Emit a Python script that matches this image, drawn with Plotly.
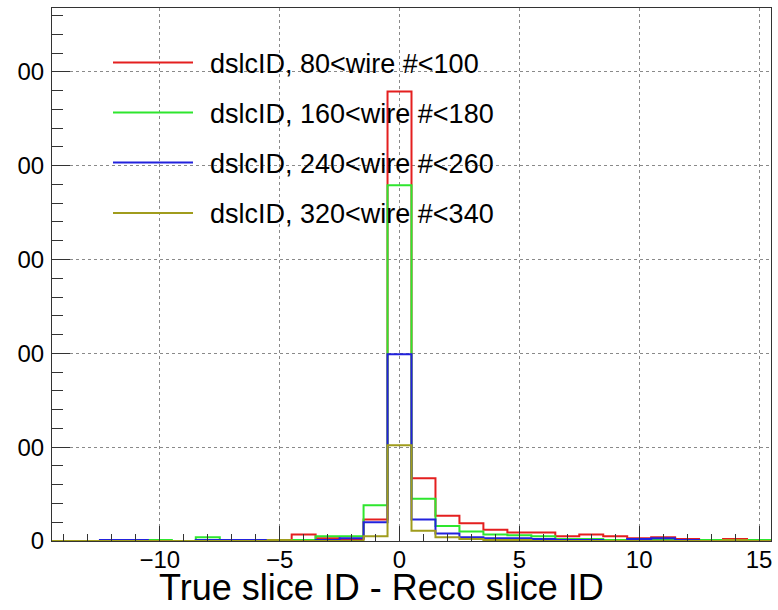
import plotly.graph_objects as go

# ---- data ----
bin_centers = list(range(-14, 16))  # 30 bins of width 1, from -14.5 to 15.5

#            -14 -13 -12 -11 -10  -9  -8  -7  -6  -5  -4  -3  -2  -1    0   1   2   3   4  5  6  7  8  9 10 11 12 13 14 15
red_vals =   [0,  0,  0,  0,  0,  0,  0,  0,  0,  0,  7,  3,  2, 23, 479, 67, 27, 19, 12, 9, 9, 5, 7, 5, 3, 4, 2, 0, 2, 0]
green_vals = [0,  0,  0,  0,  1,  0,  4,  0,  0,  0,  1,  5,  5, 38, 379, 45, 16, 10,  7, 6, 5, 2, 2, 1, 1, 1, 1, 1, 1, 1]
blue_vals =  [0,  0,  1,  1,  0,  0,  1,  1,  1,  0,  0,  1,  3, 20, 199, 23,  8,  4,  3, 3, 2, 1, 1, 0, 2, 3, 1, 0, 0, 0]
olive_vals = [0,  0,  0,  0,  0,  0,  0,  0,  0,  1,  0,  0,  0,  5, 102, 11,  4,  2,  1, 1, 0, 0, 0, 0, 0, 0, 0, 0, 1, 0]

series_names = ["dslcID, 80<wire #<100", "dslcID, 160<wire #<180",
                "dslcID, 240<wire #<260", "dslcID, 320<wire #<340"]
series_vals = [red_vals, green_vals, blue_vals, olive_vals]
series_colors = ["#e41f1f", "#2ee62e", "#2222dd", "#a09c1c"]

y_tickvals = [0, 100, 200, 300, 400, 500]
y_ticktext = ["0", "00", "00", "00", "00", "00"]
x_tickvals = [-10, -5, 0, 5, 10, 15]
x_title = "True slice ID - Reco slice ID"

FONT = "Liberation Sans, Arial, Helvetica, sans-serif"
W, H = 778, 610
L, R, T, B = 52, 7, 8, 69
PW, PH = W - L - R, H - T - B


def px_to_paper(px, py):
    return (px - L) / PW, (H - B - py) / PH


fig = go.Figure()

for name, vals, col in zip(series_names, series_vals, series_colors):
    edges = [c - 0.5 for c in bin_centers] + [bin_centers[-1] + 0.5]
    ys = list(vals) + [vals[-1]]
    fig.add_trace(go.Scatter(
        x=edges, y=ys, mode="lines", line=dict(color=col, width=2, shape="hv"),
        name=name, showlegend=False, cliponaxis=False, hoverinfo="skip"))

# manual ROOT-style legend (no box)
legend_rows_py = [62.5, 112.5, 162.5, 213]
for name, col, py in zip(series_names, series_colors, legend_rows_py):
    x0, y0 = px_to_paper(113, py)
    x1, _ = px_to_paper(193, py)
    fig.add_shape(type="line", xref="paper", yref="paper", x0=x0, x1=x1, y0=y0, y1=y0,
                  line=dict(color=col, width=2))
    tx, ty = px_to_paper(208, py + 1)
    fig.add_annotation(text=name, xref="paper", yref="paper", x=tx, y=ty,
                       xanchor="left", yanchor="middle", showarrow=False,
                       font=dict(family=FONT, size=27, color="black"))

# x-axis title (ROOT placement)
tx, ty = px_to_paper(381.5, 610)
fig.add_annotation(text=x_title, xref="paper", yref="paper", x=tx, y=ty,
                   xanchor="center", yanchor="bottom", showarrow=False,
                   font=dict(family=FONT, size=36, color="black"))

fig.update_layout(
    width=W, height=H,
    margin=dict(l=L, r=R, t=T, b=B, autoexpand=False),
    paper_bgcolor="white", plot_bgcolor="white",
    font=dict(family=FONT, color="black"),
    showlegend=False,
)
fig.update_xaxes(
    range=[-14.5, 15.5], tickvals=x_tickvals, ticks="inside", ticklen=15, tickwidth=1,
    tickcolor="#333333", showline=True, linecolor="#333333", linewidth=1, mirror=True,
    showgrid=True, gridcolor="#8a8a8a", griddash="dot", gridwidth=1, zeroline=False,
    tickfont=dict(family=FONT, size=24, color="black"),
    minor=dict(ticks="inside", ticklen=7, dtick=1, tick0=0, tickcolor="#333333", showgrid=False),
    ticklabelstandoff=-3,
)
fig.update_yaxes(
    range=[0, 568], tickvals=y_tickvals, ticktext=y_ticktext, ticks="inside", ticklen=18,
    tickwidth=1, tickcolor="#333333", showline=True, linecolor="#333333", linewidth=1,
    mirror=True, showgrid=True, gridcolor="#8a8a8a", griddash="dot", gridwidth=1,
    zeroline=False, tickfont=dict(family=FONT, size=24, color="black"),
    minor=dict(ticks="inside", ticklen=11, dtick=20, tick0=0, tickcolor="#333333", showgrid=False),
    ticklabelstandoff=2,
)

fig.write_html("out.html")
